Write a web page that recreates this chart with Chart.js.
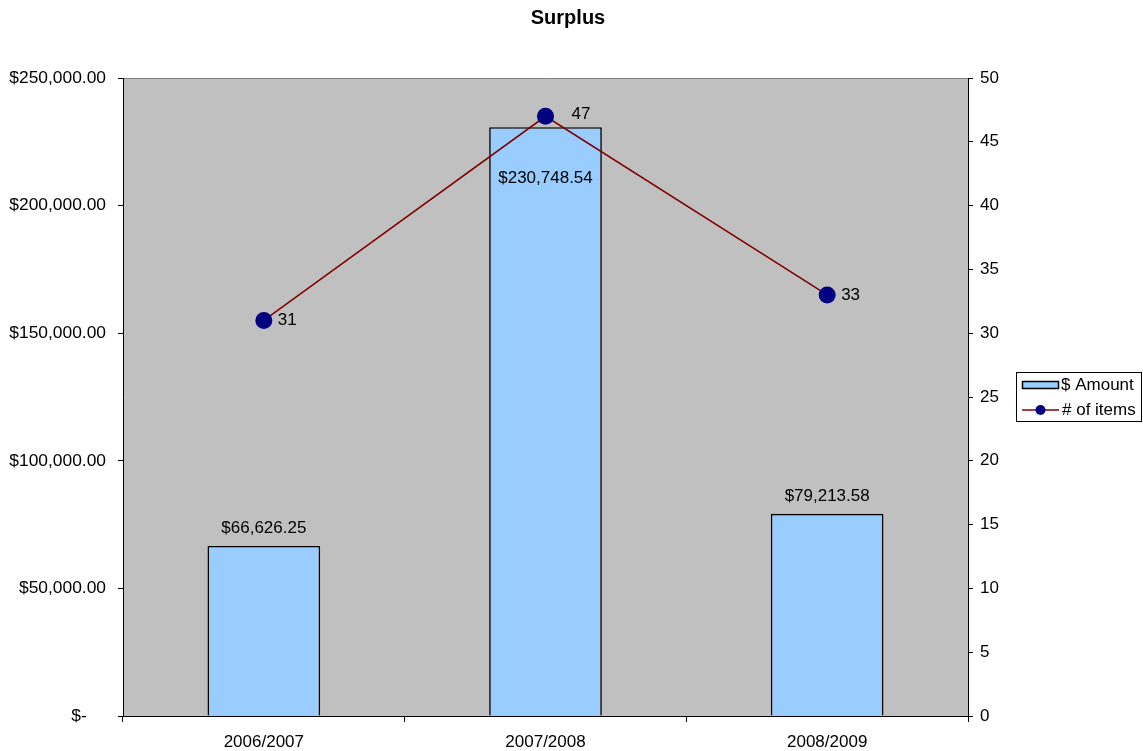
<!DOCTYPE html>
<html>
<head>
<meta charset="utf-8">
<title>Surplus</title>
<script src="https://cdn.jsdelivr.net/npm/chart.js@4/dist/chart.umd.min.js"></script>
<style>
  html, body { margin: 0; padding: 0; background: #ffffff; }
  #wrap { width: 1143px; height: 751px; position: relative; }
</style>
</head>
<body>
<div id="wrap"><canvas id="chart" width="1143" height="751"></canvas></div>
<script>
// Fiscal years and their surplus figures
const years = ['2006/2007', '2007/2008', '2008/2009'];
const amounts = [66626.25, 230748.54, 79213.58];
const itemCounts = [31, 47, 33];
const chartTitle = 'Surplus';
const amountLabel = '$ Amount';
const itemsLabel = '# of items';

const FONT = '"Liberation Sans", Arial, sans-serif';
const BAR_FILL = '#99CCFF';
const LINE_COLOR = '#800000';
const POINT_COLOR = '#000080';
const PLOT_BG = '#C0C0C0';

const money = v => v === 0
  ? '$-    '
  : '$' + v.toLocaleString('en-US', { minimumFractionDigits: 2, maximumFractionDigits: 2 });

// Grey plot area plus its top border
const plotBackground = {
  id: 'plotBackground',
  beforeDraw(chart) {
    const { ctx, chartArea: a } = chart;
    ctx.save();
    ctx.fillStyle = PLOT_BG;
    ctx.fillRect(a.left, a.top, a.right - a.left, a.bottom - a.top);
    ctx.strokeStyle = '#808080';
    ctx.lineWidth = 1;
    ctx.beginPath();
    ctx.moveTo(a.left, a.top + 0.5);
    ctx.lineTo(a.right, a.top + 0.5);
    ctx.stroke();
    ctx.restore();
  }
};

// Value labels for bars and points
const valueLabels = {
  id: 'valueLabels',
  afterDatasetsDraw(chart) {
    const { ctx } = chart;
    const bars = chart.getDatasetMeta(0).data;
    const points = chart.getDatasetMeta(1).data;
    ctx.save();
    ctx.font = '17px ' + FONT;
    ctx.fillStyle = '#000';
    ctx.textBaseline = 'middle';
    ctx.textAlign = 'center';
    bars.forEach((bar, i) => {
      const pt = points[i];
      // move the label inside the bar when the marker sits just above its top
      const crowded = pt && pt.y < bar.y && bar.y - pt.y < 40;
      const y = crowded ? bar.y + 51 : bar.y - 18;
      ctx.fillText(money(amounts[i]), bar.x, y);
    });
    const nudge = [0, 12, 0];
    ctx.textAlign = 'left';
    points.forEach((pt, i) => {
      ctx.fillText(String(itemCounts[i]), pt.x + 14 + nudge[i], pt.y - (nudge[i] ? 2 : 0));
    });
    ctx.restore();
  }
};

// Title and boxed legend
const decorations = {
  id: 'decorations',
  afterDraw(chart) {
    const { ctx } = chart;
    ctx.save();
    ctx.fillStyle = '#000';
    ctx.font = 'bold 20px ' + FONT;
    ctx.textAlign = 'center';
    ctx.textBaseline = 'middle';
    ctx.fillText(chartTitle, 568, 18);

    const lx = 1016, ly = 372, lw = 125, lh = 49;
    ctx.fillStyle = '#fff';
    ctx.fillRect(lx, ly, lw, lh);
    ctx.strokeStyle = '#000';
    ctx.lineWidth = 1;
    ctx.strokeRect(lx + 0.5, ly + 0.5, lw, lh);

    // bar swatch
    ctx.fillStyle = BAR_FILL;
    ctx.fillRect(lx + 6.5, ly + 9.5, 36, 7);
    ctx.strokeStyle = '#000';
    ctx.lineWidth = 1.5;
    ctx.strokeRect(lx + 6.5, ly + 9.5, 36, 7);
    // line swatch
    ctx.strokeStyle = LINE_COLOR;
    ctx.lineWidth = 1.5;
    ctx.beginPath();
    ctx.moveTo(lx + 6, ly + 38);
    ctx.lineTo(lx + 43, ly + 38);
    ctx.stroke();
    ctx.fillStyle = POINT_COLOR;
    ctx.beginPath();
    ctx.arc(lx + 24.5, ly + 38, 5, 0, Math.PI * 2);
    ctx.fill();

    ctx.fillStyle = '#000';
    ctx.font = '17px ' + FONT;
    ctx.textAlign = 'left';
    ctx.fillText(amountLabel, lx + 45, ly + 13);
    ctx.fillText(itemsLabel, lx + 46, ly + 38);
    ctx.restore();
  }
};

new Chart(document.getElementById('chart'), {
  data: {
    labels: years,
    datasets: [
      {
        type: 'bar',
        label: amountLabel,
        data: amounts,
        yAxisID: 'y',
        backgroundColor: BAR_FILL,
        borderColor: '#000',
        borderWidth: 1.6,
        barPercentage: 0.4,
        categoryPercentage: 1,
        order: 2
      },
      {
        type: 'line',
        label: itemsLabel,
        data: itemCounts,
        yAxisID: 'y1',
        borderColor: LINE_COLOR,
        borderWidth: 1.5,
        pointBackgroundColor: POINT_COLOR,
        pointBorderColor: POINT_COLOR,
        pointRadius: 8.5,
        pointBorderWidth: 0,
        tension: 0,
        order: 1
      }
    ]
  },
  options: {
    responsive: false,
    animation: false,
    devicePixelRatio: 1,
    layout: { padding: { top: 78, left: 0, right: 0, bottom: 0 } },
    plugins: {
      legend: { display: false },
      title: { display: false },
      tooltip: { enabled: false }
    },
    scales: {
      x: {
        type: 'category',
        offset: true,
        grid: { display: true, drawOnChartArea: false, offset: true, tickLength: 6, color: '#000' },
        border: { display: true, color: '#000' },
        ticks: { color: '#000', font: { family: FONT, size: 17 }, padding: 10, maxRotation: 0 },
        afterFit(s) { s.height = 35; }
      },
      y: {
        position: 'left',
        min: 0,
        max: 250000,
        grid: { display: true, drawOnChartArea: false, tickLength: 5, color: '#000' },
        border: { display: true, color: '#000' },
        ticks: {
          stepSize: 50000,
          color: '#000',
          font: { family: FONT, size: 17.4 },
          padding: 12,
          callback: v => money(v)
        },
        afterFit(s) { s.width = 123; }
      },
      y1: {
        position: 'right',
        min: 0,
        max: 50,
        grid: { display: true, drawOnChartArea: false, tickLength: 5, color: '#000' },
        border: { display: true, color: '#000' },
        ticks: {
          stepSize: 5,
          color: '#000',
          font: { family: FONT, size: 17 },
          padding: 7
        },
        afterFit(s) { s.width = 175; }
      }
    }
  },
  plugins: [plotBackground, valueLabels, decorations]
});
</script>
</body>
</html>
